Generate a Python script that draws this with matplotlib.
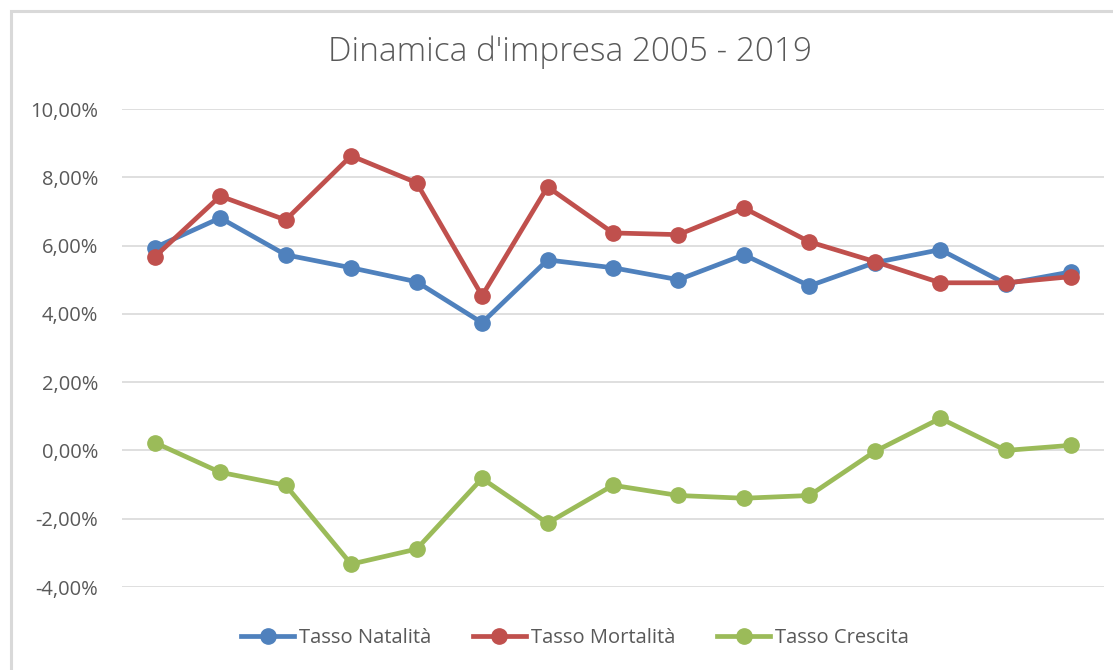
import matplotlib.pyplot as plt
from matplotlib.patches import Rectangle
from matplotlib.ticker import FuncFormatter

# valori (percentuali)
anni = list(range(2005, 2020))
natalita = [5.94, 6.81, 5.73, 5.35, 4.94, 3.74, 5.58, 5.35, 5.00, 5.73, 4.82, 5.50, 5.88, 4.88, 5.23]
mortalita = [5.67, 7.45, 6.75, 8.63, 7.84, 4.53, 7.72, 6.37, 6.32, 7.10, 6.11, 5.53, 4.91, 4.91, 5.09]
crescita = [0.23, -0.64, -1.02, -3.33, -2.89, -0.82, -2.13, -1.02, -1.32, -1.40, -1.32, -0.03, 0.94, 0.00, 0.15]

serie = ["Tasso Natalità", "Tasso Mortalità", "Tasso Crescita"]
colori = ["#4F81BD", "#C0504D", "#9BBB59"]

plt.rcParams['font.family'] = ['Open Sans', 'DejaVu Sans']

fig = plt.figure(figsize=(11.13, 6.70), dpi=100)
ax = fig.add_axes([122 / 1113, 1 - 587 / 670, (1104 - 122) / 1113, (587 - 109) / 670])

# bordo del riquadro grafico (tagliato a destra e in basso)
fig.patches.append(Rectangle((11 / 1113, -0.05), 1.2, 1 - 11 / 670 + 0.05,
                             transform=fig.transFigure, fill=False,
                             edgecolor="#D9D9D9", linewidth=2.2))

x = range(len(anni))
for valori, nome, col in zip([natalita, mortalita, crescita], serie, colori):
    ax.plot(x, valori, color=col, linewidth=3.4, marker='o', markersize=11, label=nome)

ax.set_xlim(-0.5, len(anni) - 0.5)
ax.set_ylim(-4, 10)
ax.set_yticks(range(-4, 11, 2))
ax.yaxis.set_major_formatter(FuncFormatter(lambda v, p: f"{v:.2f}%".replace('.', ',')))
ax.set_xticks([])
ax.tick_params(axis='y', length=0, labelsize=14.5, labelcolor="#595959", pad=17)
ax.grid(axis='y', color="#D9D9D9", linewidth=1.2)
ax.set_axisbelow(True)
for s in ax.spines.values():
    s.set_visible(False)

fig.text(570 / 1113, 1 - 52 / 670, "Dinamica d'impresa 2005 - 2019", ha='center', va='center',
         fontsize=24, color="#595959", fontweight='light')

fig.legend(loc='center', bbox_to_anchor=(575 / 1113, 1 - 638 / 670), ncol=3, frameon=False,
           fontsize=14.5, labelcolor="#595959", handlelength=2.6, columnspacing=2.1, handletextpad=0.25)

fig.savefig("out.png", dpi=100)
